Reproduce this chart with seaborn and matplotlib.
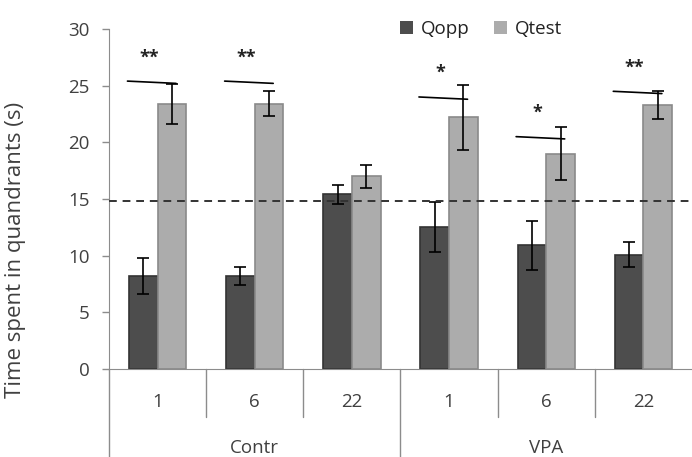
import numpy as np
import pandas as pd
import seaborn as sns
import matplotlib.pyplot as plt

sns.set_style("white")
plt.rcParams['font.family'] = ['Open Sans', 'DejaVu Sans']

# data
groups = ["Contr", "Contr", "Contr", "VPA", "VPA", "VPA"]
days = ["1", "6", "22", "1", "6", "22"]
qopp = [8.2, 8.2, 15.4, 12.5, 10.9, 10.1]
qopp_err = [1.6, 0.8, 0.8, 2.2, 2.2, 1.1]
qtest = [23.4, 23.4, 17.0, 22.2, 19.0, 23.3]
qtest_err = [1.75, 1.1, 1.0, 2.9, 2.35, 1.2]
chance = 14.8
# significance: (category index, line y, stars)
sig = [(0, 25.3, "**"), (1, 25.3, "**"), (3, 23.9, "*"), (4, 20.4, "*"), (5, 24.4, "**")]

cats = [g + "-" + d for g, d in zip(groups, days)]
df = pd.DataFrame({
    "cat": cats * 2,
    "quad": ["Qopp"] * 6 + ["Qtest"] * 6,
    "val": qopp + qtest,
})
errs = qopp_err + qtest_err

fig = plt.figure(figsize=(6.92, 4.57), dpi=100)
ax = fig.add_axes([0.1575, 0.1926, 0.8425, 0.744])

pal = {"Qopp": "#4d4d4d", "Qtest": "#acacac"}
sns.barplot(data=df, x="cat", y="val", hue="quad", order=cats, hue_order=["Qopp", "Qtest"],
            palette=pal, width=0.59, gap=0, errorbar=None, saturation=1,
            edgecolor=None, linewidth=0, ax=ax)

# error bars on the bar centres
bars = [p for p in ax.patches if p.get_height() > 0]
edge = {"Qopp": "#333333", "Qtest": "#8a8a8a"}
for i, p in enumerate(bars):
    q = "Qopp" if i < 6 else "Qtest"
    p.set_edgecolor(edge[q])
    p.set_linewidth(1.2)
    xc = p.get_x() + p.get_width() / 2
    ax.errorbar(xc, p.get_height(), yerr=errs[i], color="black", capsize=4.5,
                elinewidth=1.2, capthick=1.2, zorder=5)

ax.axhline(chance, color="#333333", ls=(0, (4, 3)), lw=1.4, zorder=6)

for ci, yv, st in sig:
    ax.plot([ci - 0.31, ci + 0.19], [yv + 0.1, yv - 0.1], color="black", lw=1.2)
    ax.text(ci - 0.09, yv + 2.2, st, ha="center", va="center", fontsize=13,
            color="#222222", fontweight="bold")

ax.set_ylim(0, 30)
ax.set_xlim(-0.5, 5.5)
ax.set_yticks(range(0, 31, 5))
ax.tick_params(axis="y", labelsize=13.5, labelcolor="#404040", left=True,
               length=5, width=1, color="#8c8c8c", pad=9)
ax.tick_params(axis="x", bottom=False, labelbottom=False)
ax.set_xlabel("")
ax.set_ylabel("Time spent in quandrants (s)", fontsize=16, color="#404040")
ax.yaxis.set_label_coords(-0.142, 0.35)

for s in ["top", "right"]:
    ax.spines[s].set_visible(False)
ax.spines["left"].set_color("#8c8c8c")
ax.spines["bottom"].set_color("#8c8c8c")

# two-level category axis
trans = ax.get_xaxis_transform()
for i, d in enumerate(days):
    ax.text(i, -0.097, d, transform=trans, ha="center", va="center",
            fontsize=13.5, color="#404040")
for xs in [0.5, 1.5, 3.5, 4.5]:
    ax.plot([xs, xs], [0, -0.141], transform=trans, color="#8c8c8c", lw=1, clip_on=False)
for xs in [-0.5, 2.5]:
    ax.plot([xs, xs], [0, -0.27], transform=trans, color="#8c8c8c", lw=1, clip_on=False)
ax.text(1.0, -0.232, "Contr", transform=trans, ha="center", va="center",
        fontsize=13.5, color="#404040")
ax.text(4.0, -0.232, "VPA", transform=trans, ha="center", va="center",
        fontsize=13.5, color="#404040")

leg = ax.legend(loc="center", bbox_to_anchor=(0.638, 1.0), ncol=2, frameon=False,
                fontsize=13.5, handlelength=0.7, handleheight=0.7, handletextpad=0.4,
                columnspacing=1.3)
for t in leg.get_texts():
    t.set_color("#222222")

fig.savefig("out.png", dpi=100)
